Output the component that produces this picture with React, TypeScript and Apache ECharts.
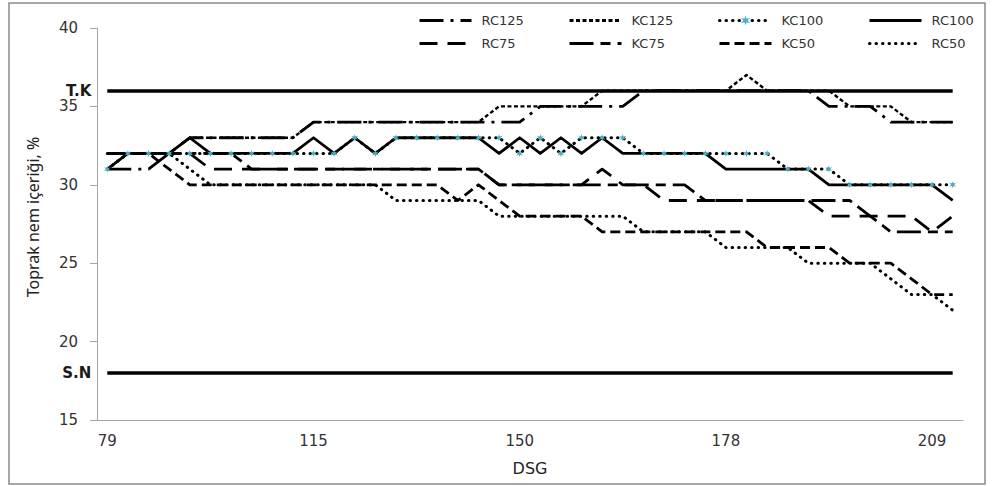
import { useEffect, useRef } from "react";
import * as echarts from "echarts";

// DSG (days) categories
const DSG = [79, 83, 86, 90, 94, 97, 101, 104, 108, 111, 115, 118, 122, 125, 129, 132, 136, 139, 143, 146, 150, 153, 156, 158, 161, 164, 167, 170, 172, 175, 178, 181, 184, 187, 190, 193, 197, 200, 203, 206, 209, 212];

const RC125 = [31, 31, 31, 32, 33, 33, 33, 33, 33, 33, 34, 34, 34, 34, 34, 34, 34, 34, 34, 34, 34, 35, 35, 35, 35, 35, 36, 36, 36, 36, 36, 36, 36, 36, 36, 35, 35, 35, 34, 34, 34, 34];
const KC125 = [32, 32, 32, 32, 33, 33, 33, 33, 33, 33, 34, 34, 34, 34, 34, 34, 34, 34, 34, 35, 35, 35, 35, 35, 36, 36, 36, 36, 36, 36, 36, 37, 36, 36, 36, 36, 35, 35, 35, 34, 34, 34];
const KC100 = [31, 32, 32, 32, 32, 32, 32, 32, 32, 32, 32, 32, 33, 32, 33, 33, 33, 33, 33, 33, 32, 33, 32, 33, 33, 33, 32, 32, 32, 32, 32, 32, 32, 31, 31, 31, 30, 30, 30, 30, 30, 30];
const RC100 = [31, 32, 32, 32, 33, 32, 32, 32, 32, 32, 33, 32, 33, 32, 33, 33, 33, 33, 33, 32, 33, 32, 33, 32, 33, 32, 32, 32, 32, 32, 31, 31, 31, 31, 31, 30, 30, 30, 30, 30, 30, 29];
const RC75 = [32, 32, 32, 32, 32, 31, 31, 31, 31, 31, 31, 31, 31, 31, 31, 31, 31, 31, 31, 30, 30, 30, 30, 30, 31, 30, 30, 29, 29, 29, 29, 29, 29, 29, 29, 28, 28, 28, 28, 28, 27, 28];
const KC75 = [32, 32, 32, 32, 32, 32, 32, 31, 31, 31, 31, 31, 31, 31, 31, 31, 31, 31, 31, 30, 30, 30, 30, 30, 30, 30, 30, 30, 30, 29, 29, 29, 29, 29, 29, 29, 29, 28, 27, 27, 27, 27];
const KC50 = [32, 32, 32, 31, 30, 30, 30, 30, 30, 30, 30, 30, 30, 30, 30, 30, 30, 29, 30, 29, 28, 28, 28, 28, 27, 27, 27, 27, 27, 27, 27, 27, 26, 26, 26, 26, 25, 25, 25, 24, 23, 23];
const RC50 = [32, 32, 32, 32, 31, 30, 30, 30, 30, 30, 30, 30, 30, 30, 29, 29, 29, 29, 29, 28, 28, 28, 28, 28, 28, 28, 27, 27, 27, 27, 26, 26, 26, 26, 25, 25, 25, 25, 24, 23, 23, 22];

// Reference levels
const TK_VALUE = 36; // tarla kapasitesi
const SN_VALUE = 18; // solma noktası

const Y_TICKS = { min: 15, max: 40, interval: 5 };

const LEGEND_COLUMNS = [
  ["RC125", "RC75"],
  ["KC125", "KC75"],
  ["KC100", "KC50"],
  ["RC100", "RC50"],
];

const STAR = "path://M5,0 L6.1,3.3 L9.8,2.2 L7,5 L9.8,7.8 L6.1,6.7 L5,10 L3.9,6.7 L0.2,7.8 L3,5 L0.2,2.2 L3.9,3.3 Z";

export default function App() {
  const ref = useRef<HTMLDivElement>(null);

  useEffect(() => {
    if (!ref.current) return;
    const chart = echarts.init(ref.current, undefined, { renderer: "svg" });
    const cats = DSG.map(String);
    const first = cats[0];
    const last = cats[cats.length - 1];

    const mk = (name: string, data: number[], dash: number[] | "solid", width: number, extra: any = {}) => ({
      name,
      type: "line",
      data,
      symbol: "none",
      z: 3,
      lineStyle: { color: "#000", width, type: dash, cap: "butt", join: "round" },
      itemStyle: { color: "#000" },
      ...extra,
    });

    const fontTick = { color: "#333", fontFamily: "DejaVu Sans", fontSize: 15 };
    const legendBase = {
      orient: "vertical",
      top: 14,
      padding: 0,
      itemWidth: 52,
      itemHeight: 12,
      itemGap: 10,
      selectedMode: false,
      lineStyle: { width: 3 },
      textStyle: { color: "#333", fontFamily: "DejaVu Sans", fontSize: 13, padding: [0, 0, 0, 5] },
    };
    const lefts = [418, 568, 718, 868];

    chart.setOption({
      animation: false,
      grid: { left: 97, right: 29, top: 28, bottom: 66 },
      xAxis: {
        type: "category",
        data: cats,
        boundaryGap: true,
        axisLine: { lineStyle: { color: "#a6a6a6", width: 1 } },
        axisTick: { interval: 9, length: 5, lineStyle: { color: "#a6a6a6" } },
        axisLabel: { interval: 9, margin: 13, ...fontTick },
        name: "DSG",
        nameLocation: "middle",
        nameGap: 40,
        nameTextStyle: { color: "#222", fontFamily: "DejaVu Sans", fontSize: 16 },
      },
      yAxis: {
        type: "value",
        min: Y_TICKS.min,
        max: Y_TICKS.max,
        interval: Y_TICKS.interval,
        axisLine: { show: true, lineStyle: { color: "#a6a6a6", width: 1 } },
        axisTick: { show: true, length: 7, lineStyle: { color: "#a6a6a6" } },
        splitLine: { show: false },
        axisLabel: { margin: 19, ...fontTick },
      },
      legend: LEGEND_COLUMNS.map((col, i) => ({
        ...legendBase,
        left: lefts[i],
        data: col.map((n) => (n === "KC100" ? { name: n } : { name: n, itemStyle: { opacity: 0 } })),
      })),
      graphic: [
        {
          type: "rect",
          silent: true,
          z: -10,
          shape: { x: 9, y: 3, width: 976, height: 481 },
          style: { fill: "none", stroke: "#8a8a8a", lineWidth: 1.5 },
        },
        {
          type: "text",
          x: 33,
          y: 217,
          rotation: Math.PI / 2,
          style: {
            text: "Toprak nem içeriği, %",
            fill: "#222",
            fontFamily: "Noto Sans",
            fontSize: 16,
            align: "center",
            verticalAlign: "middle",
          },
        },
      ],
      series: [
        {
          name: "limits",
          type: "line",
          data: [],
          silent: true,
          markLine: {
            silent: true,
            symbol: ["none", "none"],
            lineStyle: { color: "#000", width: 3.5, type: "solid" },
            label: {
              show: true,
              position: "start",
              distance: 16,
              formatter: "{b}",
              color: "#1a1a1a",
              fontFamily: "DejaVu Sans",
              fontWeight: "bold",
              fontSize: 15,
            },
            emphasis: { disabled: true },
            data: [
              [{ name: "T.K", coord: [first, TK_VALUE] }, { coord: [last, TK_VALUE] }],
              [{ name: "S.N", coord: [first, SN_VALUE] }, { coord: [last, SN_VALUE] }],
            ],
          },
        },
        mk("RC125", RC125, [24, 7, 3, 7], 2.8),
        mk("KC125", KC125, [4, 2.5], 2.4),
        mk("KC100", KC100, [0.5, 6], 3, {
          symbol: STAR,
          symbolSize: 7,
          showSymbol: true,
          lineStyle: { color: "#000", width: 3, type: [0.5, 6], cap: "round" },
          itemStyle: { color: "#4bacc6" },
        }),
        mk("RC100", RC100, "solid", 2.8),
        mk("RC75", RC75, [18, 10], 2.8),
        mk("KC75", KC75, [24, 7, 10, 7], 2.8),
        mk("KC50", KC50, [10, 5], 2.8),
        mk("RC50", RC50, [0.5, 6], 3, {
          lineStyle: { color: "#000", width: 3, type: [0.5, 6], cap: "round" },
        }),
      ],
    });

    return () => chart.dispose();
  }, []);

  return <div ref={ref} style={{ position: "absolute", left: 0, top: 0, width: 992, height: 486, background: "#fff" }} />;
}
